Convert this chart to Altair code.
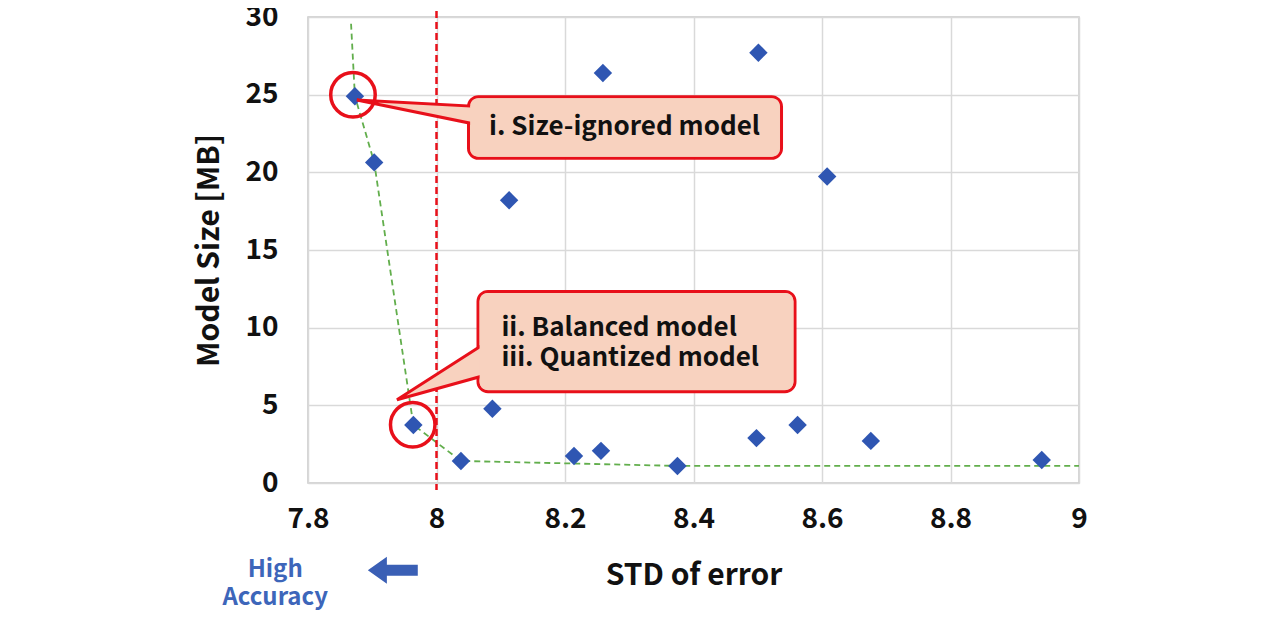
import altair as alt
import pandas as pd

FONT = "Noto Sans CJK JP"
BLUE = "#2f56b2"
RED = "#e8101a"
GREEN = "#62ae4c"
PEACH = "#f8d2bf"

# ---- data ----
std_error = [7.873, 7.903, 7.964, 8.038, 8.087, 8.113, 8.214, 8.256, 8.259,
             8.375, 8.498, 8.501, 8.562, 8.608, 8.676, 8.942]
model_size = [24.9, 20.64, 3.74, 1.42, 4.78, 18.2, 1.74, 2.07, 26.4,
              1.10, 2.89, 27.7, 3.74, 19.73, 2.71, 1.48]

# Pareto front (dashed green)
front_x = [7.867, 7.873, 7.903, 7.964, 8.038, 8.375, 9.0]
front_y = [29.57, 24.9, 20.64, 3.74, 1.42, 1.10, 1.10]

x_ticks = [7.8, 8.0, 8.2, 8.4, 8.6, 8.8, 9.0]
y_ticks = [0, 5, 10, 15, 20, 25, 30]
threshold_x = [8.0]
threshold_y = [31.1]
threshold_y2 = [-0.45]

# ---- annotations (data coordinates) ----
circle_x = [7.870, 7.963]
circle_y = [25.0, 3.75]

box_x = [8.0498, 8.0646]
box_x2 = [8.537, 8.558]
box_y = [24.87, 12.33]
box_y2 = [20.90, 5.875]
inset_dx = 0.0025
inset_dy = 0.105

ptr1_x = [7.876, 8.061]
ptr1_y = [24.66, 24.25]
ptr1_y2 = [24.66, 23.09]
ptr2_x = [7.9385, 8.077]
ptr2_y = [5.36, 9.03]
ptr2_y2 = [5.36, 6.95]

label1_text = ["i. Size-ignored model"]
label1_x = [8.2926]
label1_y = [22.89]
label2_text = ["ii. Balanced model", "iii. Quantized model"]
label2_x = [8.101, 8.101]
label2_y = [10.01, 8.07]

acc_text = ["High", "Accuracy"]
acc_x = [7.749, 7.749]
acc_y = [-5.63, -7.42]
arrow_x = [7.932]
arrow_y = [-5.62]

# ---- scales / axes ----
xs = alt.Scale(domain=[7.8, 9.0], nice=False, zero=False)
ys = alt.Scale(domain=[0, 30], nice=False, zero=False)

x_axis = alt.Axis(values=x_ticks, format=".1~f", grid=True, gridColor="#d9d9d9",
                  gridWidth=1.5, ticks=False, domain=False, labelFont=FONT,
                  labelFontSize=28, labelFontWeight="bold", labelColor="#111111",
                  labelPadding=22, labelFlush=False, labelOverlap=False,
                  title="STD of error", titleFont=FONT, titleFontSize=30,
                  titleFontWeight="bold", titleColor="#111111", titlePadding=27)
y_axis = alt.Axis(values=y_ticks, grid=True, gridColor="#d9d9d9", gridWidth=1.5,
                  ticks=False, domain=False, labelFont=FONT, labelFontSize=28,
                  labelFontWeight="bold", labelColor="#111111", labelPadding=30,
                  labelFlush=False, labelOverlap=False,
                  title="Model Size [MB]", titleFont=FONT, titleFontSize=30,
                  titleFontWeight="bold", titleColor="#111111", titlePadding=20)

X = alt.X("x:Q", scale=xs, axis=x_axis)
Y = alt.Y("y:Q", scale=ys, axis=y_axis)

pts = pd.DataFrame({"x": std_error, "y": model_size})
front = pd.DataFrame({"x": front_x, "y": front_y, "o": list(range(len(front_x)))})
thr = pd.DataFrame({"x": threshold_x, "y": threshold_y, "y2": threshold_y2})
circ = pd.DataFrame({"x": circle_x, "y": circle_y})
boxes = pd.DataFrame({"x": box_x, "x2": box_x2, "y": box_y, "y2": box_y2})
inset = pd.DataFrame({"x": [v + inset_dx for v in box_x],
                      "x2": [v - inset_dx for v in box_x2],
                      "y": [v - inset_dy for v in box_y],
                      "y2": [v + inset_dy for v in box_y2]})
p1 = pd.DataFrame({"x": ptr1_x, "y": ptr1_y, "y2": ptr1_y2})
p2 = pd.DataFrame({"x": ptr2_x, "y": ptr2_y, "y2": ptr2_y2})
l1 = pd.DataFrame({"x": label1_x, "y": label1_y, "t": label1_text})
l2 = pd.DataFrame({"x": label2_x, "y": label2_y, "t": label2_text})
acc = pd.DataFrame({"x": acc_x, "y": acc_y, "t": acc_text})
arr = pd.DataFrame({"x": arrow_x, "y": arrow_y})

front_line = alt.Chart(front).mark_line(color=GREEN, strokeWidth=1.8,
                                         strokeDash=[6, 4]).encode(
    x=X, y=Y, order="o:Q")
thr_rule = alt.Chart(thr).mark_rule(color=RED, strokeWidth=2.5,
                                    strokeDash=[7, 4]).encode(
    x=X, y=Y, y2="y2:Q")
points = alt.Chart(pts).mark_point(shape="diamond", filled=True, size=340,
                                   color=BLUE, opacity=1).encode(x=X, y=Y)
circles = alt.Chart(circ).mark_point(shape="circle", filled=False, size=1980,
                                     color=RED, strokeWidth=3.5,
                                     opacity=1).encode(x=X, y=Y)
box_layer = alt.Chart(boxes).mark_rect(fill=PEACH, stroke=RED, strokeWidth=3,
                                       cornerRadius=10).encode(
    x=X, x2="x2:Q", y=Y, y2="y2:Q")
ptr1 = alt.Chart(p1).mark_area(fill=PEACH, stroke=RED, strokeWidth=3,
                               opacity=1, strokeJoin="miter").encode(x=X, y=Y, y2="y2:Q")
ptr2 = alt.Chart(p2).mark_area(fill=PEACH, stroke=RED, strokeWidth=3,
                               opacity=1, strokeJoin="miter").encode(x=X, y=Y, y2="y2:Q")
inset_layer = alt.Chart(inset).mark_rect(fill=PEACH, cornerRadius=8).encode(
    x=X, x2="x2:Q", y=Y, y2="y2:Q")
text1 = alt.Chart(l1).mark_text(font=FONT, fontSize=26, fontWeight="bold",
                                color="#111111", align="center",
                                baseline="middle").encode(x=X, y=Y, text="t:N")
text2 = alt.Chart(l2).mark_text(font=FONT, fontSize=26, fontWeight="bold",
                                color="#111111", align="left",
                                baseline="middle").encode(x=X, y=Y, text="t:N")
acc_text_layer = alt.Chart(acc).mark_text(font=FONT, fontSize=24, fontWeight="bold",
                                          color="#3d66ba", align="center",
                                          baseline="middle").encode(x=X, y=Y, text="t:N")
arrow = alt.Chart(arr).mark_point(
    shape="M-1.85,0L-0.44,-1L-0.44,-0.41L1.85,-0.41L1.85,0.41L-0.44,0.41L-0.44,1Z",
    filled=True, size=729, color="#3a5fb5", opacity=1).encode(x=X, y=Y)

chart = alt.layer(
    front_line, thr_rule, points, circles,
    box_layer, ptr1, ptr2, inset_layer, text1, text2,
    acc_text_layer, arrow,
).properties(
    width=771, height=466,
    autosize=alt.AutoSizeParams(type="none"),
    padding={"left": 300, "top": 9, "right": 190, "bottom": 128},
).configure_view(stroke="#c8c8c8", strokeWidth=1.5)

chart.save("out.html", embed_options={"renderer": "svg", "actions": False})
